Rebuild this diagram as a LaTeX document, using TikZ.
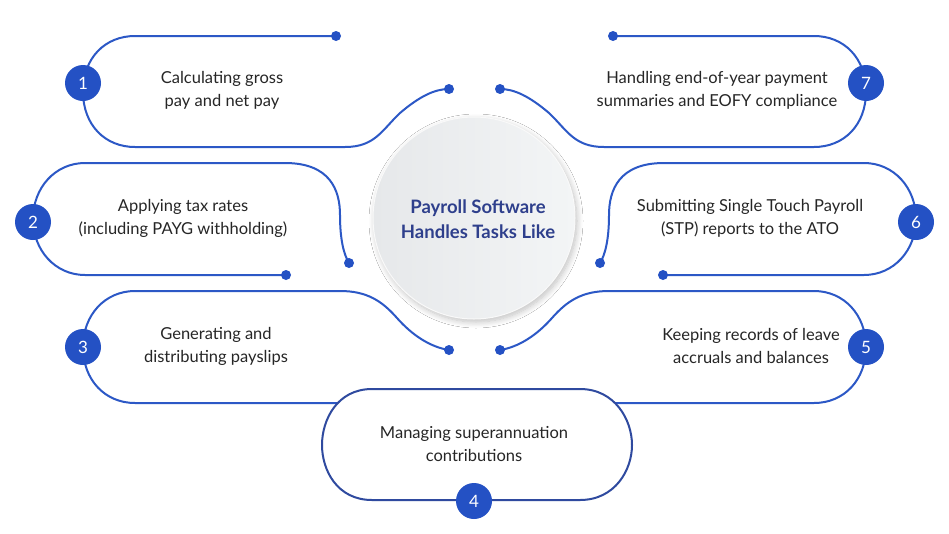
\documentclass[tikz,border=0pt]{standalone}
\usepackage{fontspec}
\setmainfont{Lato}
\usetikzlibrary{shadows.blur}
\definecolor{lb}{HTML}{2C58C6}
\definecolor{nb}{HTML}{2451C4}
\definecolor{tb}{HTML}{2E3F8C}
\definecolor{dk}{HTML}{2F4A9F}
\definecolor{ca}{HTML}{E6E8EA}
\definecolor{cb}{HTML}{F3F5F6}
\tikzset{
  x=1pt,y=-1pt,
  line/.style={draw=lb,line width=2pt},
  dotc/.style={circle,fill=nb,inner sep=0pt,minimum size=10pt},
  num/.style={circle,fill=nb,text=white,inner sep=0pt,minimum size=36pt,font=\fontsize{17}{17}\selectfont},
  lbl/.style={align=center,font=\fontsize{16.5}{23}\selectfont,text=black!85}
}
\begin{document}
\begin{tikzpicture}
\useasboundingbox[fill=white] (0,0) rectangle (949,533);
% center circle
\node[circle,minimum size=202pt,inner sep=0pt,left color=ca,right color=cb,draw=gray!5,line width=1pt,blur shadow={shadow blur steps=10,shadow xshift=2pt,shadow yshift=-3pt,shadow opacity=25,shadow blur radius=6pt}] (c) at (474,218) {};
\node[align=center,text=tb,font=\bfseries\fontsize{18.5}{25}\selectfont] (title) at (478,219) {Payroll Software\\Handles Tasks Like};
% left shapes (and mirrored right)
\foreach \s in {0,1}{
\begin{scope}[shift={(949*\s,0)},xscale={1-2*\s}]
\coordinate (d1\s) at (336,36);
\coordinate (e1\s) at (449,89);
\coordinate (d2\s) at (286,275);
\coordinate (e2\s) at (349,263);
\coordinate (e3\s) at (449,350);
\draw[line] (d1\s) -- (135,36) .. controls (105,36) and (83,58) .. (83,91.5) .. controls (83,125) and (105,147) .. (135,147) -- (345,147) .. controls (375,147) and (382,130) .. (400,113) .. controls (420,96) and (435,89) .. (e1\s);
\draw[line] (d2\s) -- (85,275) .. controls (55,275) and (33,250) .. (33,219) .. controls (33,188) and (55,163) .. (85,163) -- (285,163) .. controls (330,163) and (340,190) .. (340,215) .. controls (340,240) and (344,255) .. (e2\s);
\draw[line] (e3\s) .. controls (430,347) and (412,335) .. (397,318) .. controls (382,301) and (367,291) .. (340,291) -- (135,291) .. controls (105,291) and (83,315) .. (83,347) .. controls (83,380) and (105,403) .. (135,403) -- (340,403);
\node[dotc] at (d1\s) {};
\node[dotc] at (e1\s) {};
\node[dotc] at (d2\s) {};
\node[dotc] at (e2\s) {};
\node[dotc] at (e3\s) {};
\end{scope}}
% shape 4
\draw[draw=dk,line width=2pt,fill=white] (372,389) -- (580,389) .. controls (615,389) and (632,420) .. (632,445) .. controls (632,470) and (615,500) .. (580,500) -- (372,500) .. controls (337,500) and (322,470) .. (322,445) .. controls (322,420) and (337,389) .. cycle;
% numbers
\node[num] (n1) at (83,83) {1};
\node[num] (n2) at (33,222) {2};
\node[num] (n3) at (83,347) {3};
\node[num] (n4) at (474,501) {4};
\node[num] (n5) at (866,347) {5};
\node[num] (n6) at (916,222) {6};
\node[num] (n7) at (866,83) {7};
% labels
\node[lbl] (t1) at (222,90) {Calculating gross\\pay and net pay};
\node[lbl] (t2) at (183,218) {Applying tax rates\\(including PAYG withholding)};
\node[lbl] (t3) at (216,346) {Generating and\\distributing payslips};
\node[lbl] (t4) at (474,444) {Managing superannuation\\contributions};
\node[lbl] (t5) at (751,346) {Keeping records of leave\\accruals and balances};
\node[lbl] (t6) at (750,218) {Submitting Single Touch Payroll\\(STP) reports to the ATO};
\node[lbl] (t7) at (717,90) {Handling end-of-year payment\\summaries and EOFY compliance};
\end{tikzpicture}
\end{document}
